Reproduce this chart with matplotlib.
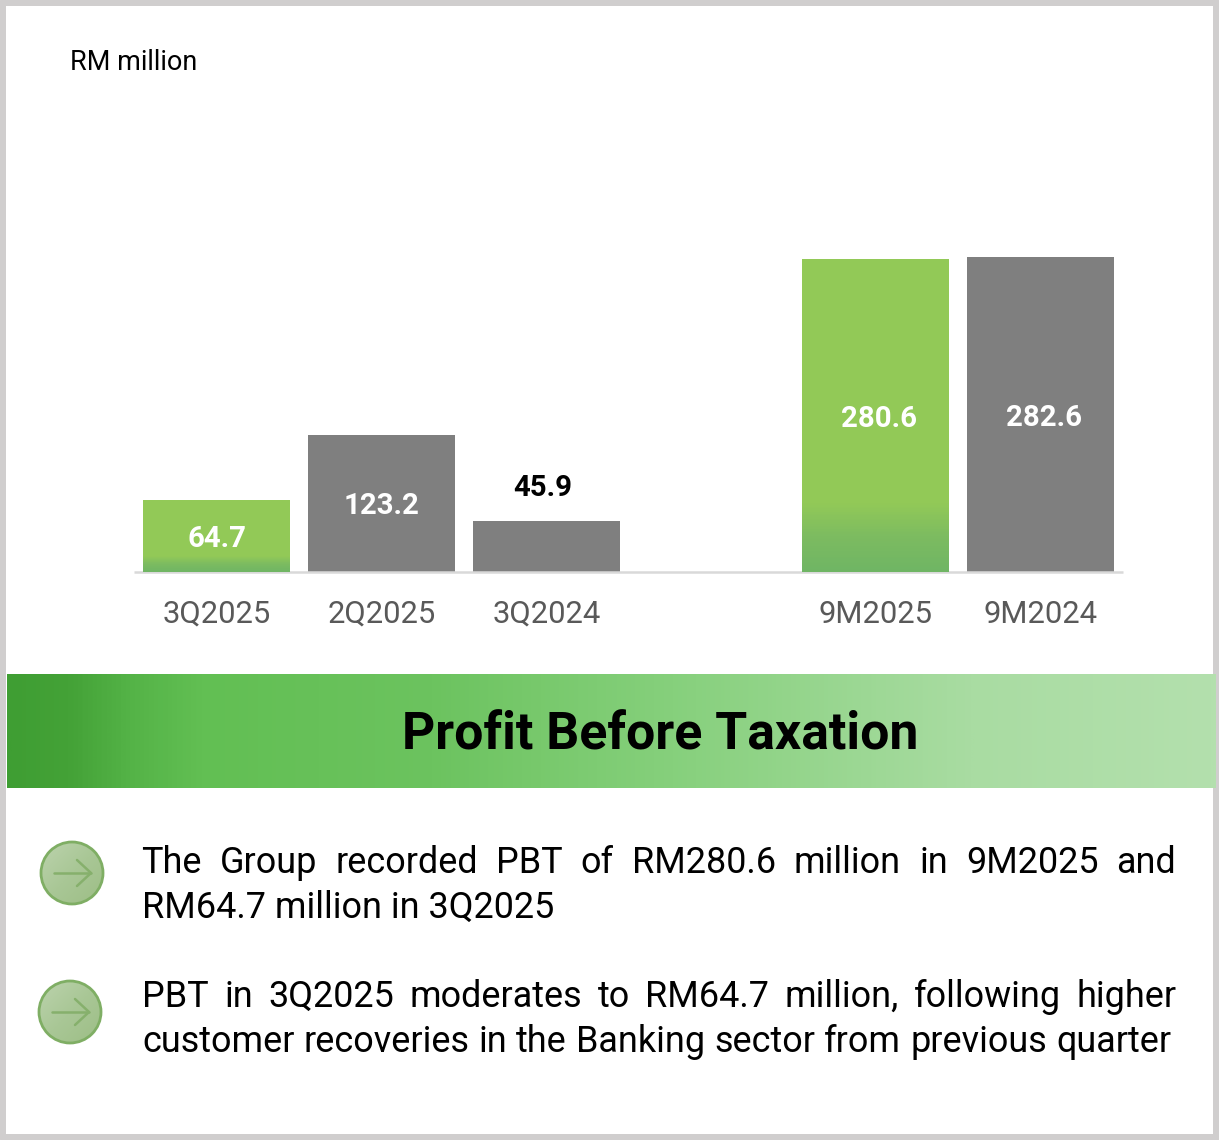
import numpy as np
import matplotlib
matplotlib.use("Agg")
import matplotlib.pyplot as plt
from matplotlib.colors import LinearSegmentedColormap
from matplotlib.patches import Circle, Rectangle

categories = ["3Q2025", "2Q2025", "3Q2024", "", "9M2025", "9M2024"]
values = [64.7, 123.2, 45.9, None, 280.6, 282.6]
bar_kinds = ["green", "gray", "gray", None, "green", "gray"]
labels = ["64.7", "123.2", "45.9", "", "280.6", "282.6"]
unit_label = "RM million"
title = "Profit Before Taxation"
para1 = ["The Group recorded PBT of RM280.6 million in 9M2025 and", "RM64.7 million in 3Q2025"]
para2 = ["PBT in 3Q2025 moderates to RM64.7 million, following higher",
         "customer recoveries in the Banking sector from previous quarter"]

W, H = 1219, 1140
plt.rcParams["font.family"] = ["Roboto", "DejaVu Sans"]
fig = plt.figure(figsize=(W / 100, H / 100), dpi=100, facecolor="white")

bg = fig.add_axes([0, 0, 1, 1], zorder=0)
bg.set_xlim(0, W); bg.set_ylim(H, 0); bg.axis("off")
renderer = fig.canvas.get_renderer()

def measure(s, fs, **kw):
    t = bg.text(0, 0, s, fontsize=fs, **kw)
    w = t.get_window_extent(renderer).width
    t.remove()
    return w
def fit(s, px, **kw):
    return 20 * px / measure(s, 20, **kw)

bg.add_patch(Rectangle((3, 3), W - 6, H - 6, fill=False, ec="#d0cece", lw=4.3))

band = LinearSegmentedColormap.from_list("band", [(0, "#3f9e33"), (0.05, "#44a237"), (0.1, "#54b347"), (0.16, "#62bf53"),
                                                  (0.35, "#6cc35f"), (0.55, "#86d07c"), (0.8, "#a9dca2"), (1, "#b3e0ad")])
bg.imshow(np.linspace(0, 1, 1200)[None, :], extent=(7, 1216, 788, 674), cmap=band, aspect="auto", zorder=1)
bg.set_xlim(0, W); bg.set_ylim(H, 0)
bg.text(660, 735, title, ha="center", va="center", fontsize=fit(title, 514, fontweight="bold"),
        fontweight="bold", color="black", zorder=2)
bg.text(70.5, 62, unit_label, ha="left", va="center", fontsize=fit(unit_label, 127), color="black")

shade = LinearSegmentedColormap.from_list("shade", ["#bcd3ad", "#a9c796", "#9dbe86"])
def bullet(cx, cy, r=31):
    g = np.add.outer(np.linspace(0, 1, 64), np.linspace(0, 1, 64)) / 2
    im = bg.imshow(g, extent=(cx - r, cx + r, cy + r, cy - r), cmap=shade, aspect="auto", zorder=2)
    c = Circle((cx, cy), r, fc="none", ec="#7fae64", lw=2.0, zorder=3)
    bg.add_patch(c)
    im.set_clip_path(c)
    col = "#86b06c"
    bg.plot([cx - 18, cx + 19], [cy, cy], color=col, lw=1.8, zorder=4, solid_capstyle="round")
    bg.plot([cx + 5, cx + 19, cx + 5], [cy - 13, cy, cy + 13], color=col, lw=1.8, zorder=4,
            solid_capstyle="round")
bullet(72, 873)
bullet(70, 1012)
bg.set_xlim(0, W); bg.set_ylim(H, 0)

fs = fit(para1[1], 412)
def justified(line, x0, x1, y):
    words = line.split(" ")
    ws = [measure(w, fs) for w in words]
    gap = (x1 - x0 - sum(ws)) / (len(words) - 1)
    x = x0
    for w, wd in zip(words, ws):
        bg.text(x, y, w, fontsize=fs, color="black", va="baseline", ha="left")
        x += wd + gap
justified(para1[0], 141.5, 1176, 873)
bg.text(142, 918, para1[1], fontsize=fs, color="black", va="baseline")
justified(para2[0], 142, 1177, 1007)
justified(para2[1], 142, 1171, 1052)

px_base, px_top = 572, 100
ax = fig.add_axes([134.4 / W, 1 - px_base / H, (1123 - 134.4) / W, (px_base - px_top) / H], zorder=5)
ax.patch.set_alpha(0)
ymax = (px_base - px_top) / 1.1146
for s in ["top", "left", "right"]:
    ax.spines[s].set_visible(False)
ax.spines["bottom"].set_color("#d9d9d9"); ax.spines["bottom"].set_linewidth(1.8)
ax.spines["bottom"].set_capstyle("butt")
ax.set_yticks([])
xs = [i for i, v in enumerate(values) if v is not None]
ax.set_xticks(xs)
ax.set_xticklabels([categories[i] for i in xs], fontsize=fit("3Q2025", 108), color="#595959")
ax.tick_params(axis="x", length=0, pad=20)
grad = LinearSegmentedColormap.from_list("g", ["#6fb564", "#7cbb60", "#92c957"])
width = 0.892
for i in xs:
    v = values[i]
    if bar_kinds[i] == "gray":
        ax.bar(i, v, width=width, color="#7f7f7f", zorder=2)
    else:
        ax.bar(i, v, width=width, color="#92c957", zorder=2)
        steps = np.linspace(0, 1, 41)
        for a, b in zip(steps[:-1], steps[1:]):
            ax.bar(i, v * 0.22 * (b - a), bottom=v * 0.22 * a, width=width, color=grad(a), zorder=3)
ax.set_xlim(-0.5, 5.5); ax.set_ylim(0, ymax)

lab_fs = fit("280.6", 76, fontweight="bold")
for i in xs:
    v = values[i]
    if i == 2:
        ax.text(i - 0.02, v + 29.5, labels[i], ha="center", va="center", fontsize=lab_fs,
                fontweight="bold", color="black", zorder=6)
    else:
        ax.text(i + 0.02 if i >= 4 else i, v / 2 - 2.7, labels[i], ha="center", va="center", fontsize=lab_fs,
                fontweight="bold", color="white", zorder=6)

fig.savefig("out.png", dpi=100, facecolor="white")
